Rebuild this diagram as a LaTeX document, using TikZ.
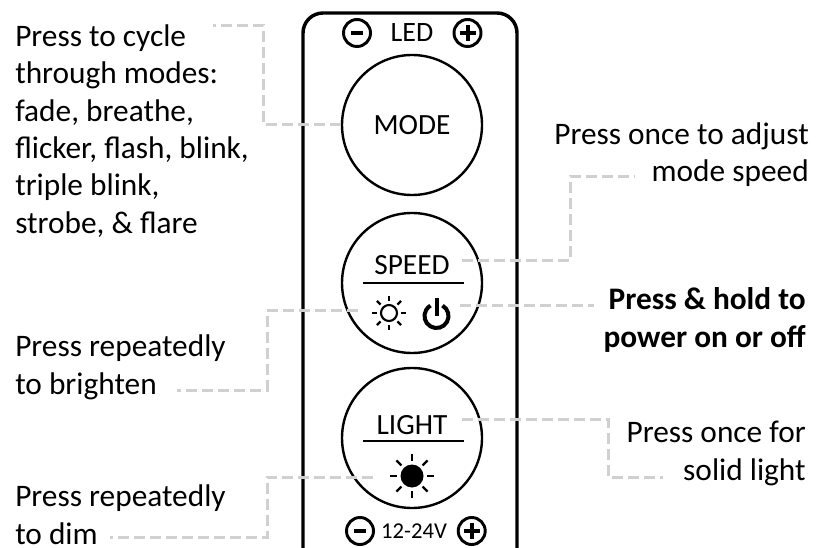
\documentclass[tikz,border=0pt]{standalone}
\usepackage{fontspec}
\setmainfont{Carlito}
\definecolor{leadgray}{RGB}{208,208,208}
\tikzset{
    leader/.style={draw=leadgray, line width=2.25pt, dash pattern=on 8pt off 4pt},
    button/.style={circle, draw, line width=1.8pt, minimum size=105pt, inner sep=0pt,
                   font=\fontsize{22}{26}\selectfont},
    note/.style={font=\fontsize{23.5}{28}\selectfont, inner sep=0pt},
    keylabel/.style={font=\fontsize{22}{26}\selectfont, inner sep=0pt},
    pole minus/.pic={
        \draw[line width=2.2pt] (0,0) circle[radius=13.5];
        \draw[line width=3pt] (-6,0) -- (6,0);
    },
    pole plus/.pic={
        \draw[line width=2.2pt] (0,0) circle[radius=13.5];
        \draw[line width=3pt] (-8,0) -- (8,0) (0,-8) -- (0,8);
    },
    sun open/.pic={
        \draw[line width=1.6pt] (0,0) circle[radius=8];
        \foreach \a in {0,45,...,315}
            \draw[line width=1.6pt] (\a:12) -- (\a:17);
    },
    sun full/.pic={
        \fill (0,0) circle[radius=11.5];
        \foreach \a in {0,45,...,315}
            \draw[line width=1.8pt] (\a:15) -- (\a:22);
    }
}

\begin{document}
\begin{tikzpicture}[x=0.75pt, y=-0.75pt]
    \useasboundingbox (0,0) rectangle (830,548);
    % Housing
    \draw[line width=2.6pt, rounded corners=15pt] (303,13) rectangle (517,575);
    % LED terminals
    \pic at (357,33) {pole minus};
    \pic at (467.5,33) {pole plus};
    \node[keylabel, font=\fontsize{21}{25}\selectfont, anchor=base] (led) at (412,41.7) {LED};
    % Buttons
    \node[button] (modebtn) at (412,125) {MODE};
    \node[button] (speedbtn) at (412,283) {};
    \node[button] (lightbtn) at (412,438) {};
    \node[keylabel, anchor=base] (speedlbl) at (412,275) {SPEED};
    \draw[line width=1.5pt] (363,282.7) -- (464,282.7);
    \pic at (389,313) {sun open};
    \draw[line width=3pt] (436.5,316) ++(-60:12) arc[start angle=-60, end angle=240, radius=12];
    \draw[line width=3pt] (436.5,298) -- (436.5,316);
    \node[keylabel, anchor=base] (lightlbl) at (412,434) {LIGHT};
    \draw[line width=1.5pt] (363,441) -- (464,441);
    \pic at (412,476) {sun full};
    % Power terminals
    \pic at (360,531) {pole minus};
    \pic at (471.7,531) {pole plus};
    \node[keylabel, font=\fontsize{17}{20}\selectfont, anchor=base] (volt) at (414,538) {12-24V};
    % Notes (base = last line)
    \node[note, anchor=base west, align=left] (modenote) at (15,233.3)
        {Press to cycle\\through modes:\\fade, breathe,\\flicker, flash, blink,\\triple blink,\\strobe, \& flare};
    \node[note, anchor=base east, align=right] (speednote) at (809,182) {Press once to adjust\\mode speed};
    \node[note, anchor=base east, align=right, font=\fontsize{23.5}{28}\selectfont\bfseries] (powernote)
        at (806,347) {Press \& hold to\\power on or off};
    \node[note, anchor=base west, align=left] (brightnote) at (15,394) {Press repeatedly\\to brighten};
    \node[note, anchor=base east, align=right] (lightnote) at (806,480) {Press once for\\solid light};
    \node[note, anchor=base west, align=left] (dimnote) at (15,544) {Press repeatedly\\to dim};
    % Leader lines
    \coordinate (modeend) at (213,26);
    \coordinate (speedstart) at (462,261);
    \coordinate (speedend) at (635,177);
    \coordinate (powerstart) at (460,306);
    \coordinate (powerend) at (594,306);
    \coordinate (brightstart) at (358,311);
    \coordinate (brightend) at (177,390);
    \coordinate (lightstart) at (462,419);
    \coordinate (lightend) at (663,477);
    \coordinate (dimstart) at (373,477);
    \coordinate (dimend) at (110,537);
    \draw[leader] (modebtn.west) -- ++(-77,0) |- (modeend);
    \draw[leader] (speedstart) -- ++(108,0) |- (speedend);
    \draw[leader] (powerstart) -- (powerend);
    \draw[leader] (brightstart) -- ++(-91,0) |- (brightend);
    \draw[leader] (lightstart) -- ++(146,0) |- (lightend);
    \draw[leader] (dimstart) -- ++(-106,0) |- (dimend);
\end{tikzpicture}
\end{document}
